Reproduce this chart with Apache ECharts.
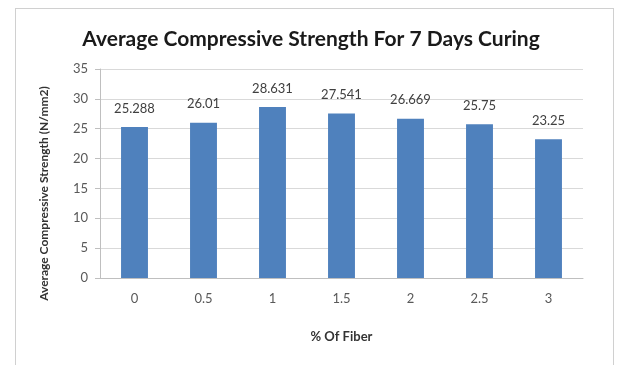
<!DOCTYPE html>
<html>
<head>
<meta charset="utf-8">
<script src="https://cdn.jsdelivr.net/npm/echarts@6/dist/echarts.min.js"></script>
<style>
  html, body { margin: 0; padding: 0; background: #fff; }
  .frame {
    position: absolute; left: 15px; top: 8px; width: 599px; height: 360px;
    border: 1px solid #d0d0d0; box-sizing: border-box;
  }
  #chart { position: absolute; left: 0; top: 0; width: 622px; height: 365px; }
</style>
</head>
<body>
<div class="frame"></div>
<div id="chart"></div>
<script>
const fiberPercent = ['0', '0.5', '1', '1.5', '2', '2.5', '3']
const strength = [25.288, 26.01, 28.631, 27.541, 26.669, 25.75, 23.25]
const strengthLabels = ['25.288', '26.01', '28.631', '27.541', '26.669', '25.75', '23.25']

const font = 'Lato, "Open Sans", sans-serif'
const chart = echarts.init(document.getElementById('chart'))
chart.setOption({
  animation: false,
  title: {
    text: 'Average Compressive Strength For 7 Days Curing',
    left: 'center',
    top: 24,
    textStyle: { fontFamily: font, fontSize: 21, fontWeight: 'bold', color: '#1a1a1a' }
  },
  grid: { left: 100, right: 39, top: 69, bottom: 87 },
  xAxis: {
    type: 'category',
    data: fiberPercent,
    name: '% Of Fiber',
    nameLocation: 'middle',
    nameGap: 52,
    nameTextStyle: { fontFamily: font, fontSize: 13, fontWeight: 'bold', color: '#333' },
    axisLine: { lineStyle: { color: '#bfbfbf' } },
    axisTick: { show: false },
    axisLabel: { fontFamily: font, fontSize: 13, color: '#595959', margin: 14 }
  },
  yAxis: {
    type: 'value',
    min: 0,
    max: 35,
    interval: 5,
    name: 'Average Compressive Strength (N/mm2)',
    nameLocation: 'middle',
    nameGap: 50,
    nameTextStyle: { fontFamily: font, fontSize: 12, fontWeight: 'bold', color: '#333', padding: [0, 0, 0, -40] },
    axisLine: { show: true, lineStyle: { color: '#bfbfbf' } },
    axisTick: { show: true, length: 5, lineStyle: { color: '#bfbfbf' } },
    axisLabel: { fontFamily: font, fontSize: 13, color: '#595959', margin: 12 },
    splitLine: { lineStyle: { color: '#d9d9d9' } }
  },
  series: [{
    type: 'bar',
    data: strength,
    barWidth: '39%',
    itemStyle: { color: '#4f81bd' },
    label: {
      show: true,
      position: 'top',
      distance: 12,
      fontFamily: font,
      fontSize: 13,
      color: '#404040',
      formatter: p => strengthLabels[p.dataIndex]
    }
  }]
})
</script>
</body>
</html>
